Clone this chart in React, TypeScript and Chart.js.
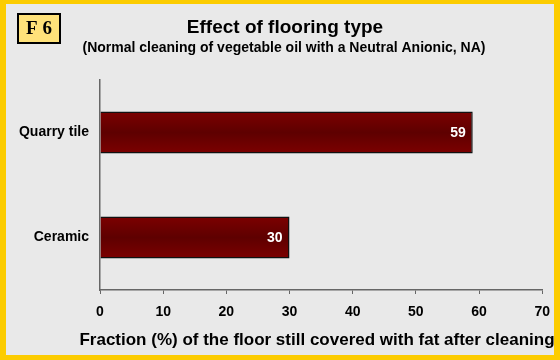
import React, { useEffect, useRef } from "react";
import { Chart, registerables } from "chart.js";

Chart.register(...registerables);

const categories = ["Quarry tile", "Ceramic"];
const values = [59, 30];
const xTicks = [0, 10, 20, 30, 40, 50, 60, 70];
const titleText = "Effect of flooring type";
const subtitleText = "(Normal cleaning of vegetable oil with a Neutral Anionic, NA)";
const xTitle = "Fraction (%) of the floor still covered with fat after cleaning";
const badge = "F 6";

const FONT = "'Liberation Sans', Arial, sans-serif";

const framePlugin = {
  id: "frame",
  beforeDraw(chart: any) {
    const { ctx, width, height } = chart;
    ctx.save();
    ctx.fillStyle = "#fccc00";
    ctx.fillRect(0, 0, width, height);
    ctx.fillStyle = "#e9e9e9";
    ctx.fillRect(6, 4, width - 12, height - 9);
    ctx.restore();
  },
  afterDraw(chart: any) {
    const { ctx } = chart;
    ctx.save();
    // badge
    ctx.fillStyle = "#ffe27a";
    ctx.fillRect(18, 14, 42, 29);
    ctx.strokeStyle = "#000";
    ctx.lineWidth = 2;
    ctx.strokeRect(18, 14, 42, 29);
    ctx.fillStyle = "#000";
    ctx.font = "bold 19px 'Liberation Serif', 'Times New Roman', serif";
    ctx.textAlign = "center";
    ctx.textBaseline = "middle";
    ctx.fillText(badge, 39, 29);
    // titles
    ctx.font = `bold 19px ${FONT}`;
    ctx.fillText(titleText, 285, 28);
    ctx.font = `bold 14px ${FONT}`;
    ctx.fillText(subtitleText, 284, 48);
    ctx.font = `bold 17px ${FONT}`;
    ctx.fillText(xTitle, 317, 340);
    // value labels
    const meta = chart.getDatasetMeta(0);
    ctx.font = `bold 14px ${FONT}`;
    ctx.fillStyle = "#fff";
    ctx.textAlign = "right";
    meta.data.forEach((bar: any, i: number) => {
      ctx.fillText(String(values[i]), bar.x - 7, bar.y + 1);
    });
    ctx.restore();
  },
};

export default function App() {
  const ref = useRef<HTMLCanvasElement>(null);
  useEffect(() => {
    if (!ref.current) return;
    const chart = new Chart(ref.current, {
      type: "bar",
      data: {
        labels: categories,
        datasets: [
          {
            data: values,
            backgroundColor: (c: any) => {
              const ch = c.chart;
              const ys = ch.scales && ch.scales.y;
              if (!ys || !ch.chartArea) return "#6a0000";
              const cy = ys.getPixelForValue(c.dataIndex);
              const g = ch.ctx.createLinearGradient(0, cy - 21, 0, cy + 21);
              g.addColorStop(0, "#7c0000");
              g.addColorStop(0.5, "#5e0000");
              g.addColorStop(1, "#7c0000");
              return g;
            },
            borderColor: "#111",
            borderWidth: 1.5,
            borderSkipped: "left",
            barPercentage: 0.4,
            categoryPercentage: 1,
          },
        ],
      },
      options: {
        indexAxis: "y",
        responsive: false,
        animation: false,
        layout: { padding: { left: 0, top: 80, right: 17, bottom: 0 } },
        plugins: { legend: { display: false }, tooltip: { enabled: false }, title: { display: false } },
        scales: {
          x: {
            min: 0,
            max: 70,
            afterFit: (s: any) => {
              s.height = 70;
            },
            afterBuildTicks: (s: any) => {
              s.ticks = xTicks.map((v) => ({ value: v }));
            },
            grid: { display: true, drawOnChartArea: false, drawTicks: true, tickLength: 4, color: "#666" },
            border: { display: true, color: "#666", width: 1.5 },
            ticks: { color: "#000", font: { family: FONT, weight: "bold", size: 14 }, padding: 10 },
          },
          y: {
            afterFit: (s: any) => {
              s.width = 100;
            },
            grid: { display: false, drawTicks: false },
            border: { display: true, color: "#666", width: 1.5 },
            ticks: { color: "#000", font: { family: FONT, weight: "bold", size: 14 }, padding: 11 },
          },
        },
      } as any,
      plugins: [framePlugin],
    });
    return () => chart.destroy();
  }, []);
  return (
    <div style={{ position: "absolute", left: 0, top: 0, width: 560, height: 360 }}>
      <canvas ref={ref} width={560} height={360} style={{ display: "block" }} />
    </div>
  );
}
